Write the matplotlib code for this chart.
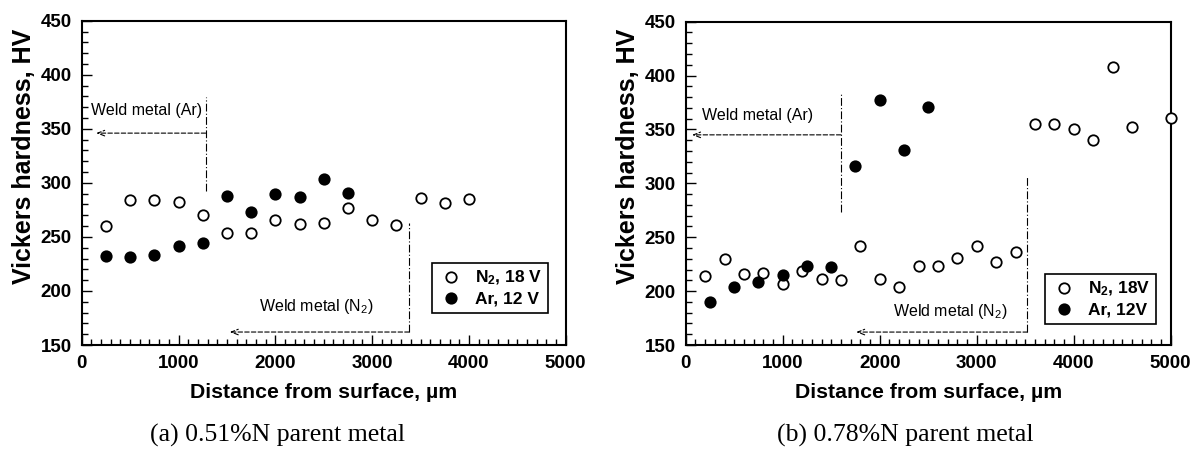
#!/usr/bin/env python3
"""Vickers hardness profiles vs distance from surface, two parent metals."""
from __future__ import annotations

import matplotlib
matplotlib.use("Agg")
import matplotlib.pyplot as plt
from matplotlib.ticker import MultipleLocator

# (a) 0.51%N parent metal
A_N2_X = [250, 500, 750, 1000, 1250, 1500, 1750, 2000, 2250, 2500, 2750,
          3000, 3250, 3500, 3750, 4000]
A_N2_HV = [260, 284, 284, 282, 270, 254, 254, 266, 262, 263, 277,
           266, 261, 286, 281, 285]
A_AR_X = [250, 500, 750, 1000, 1250, 1500, 1750, 2000, 2250, 2500, 2750]
A_AR_HV = [232, 231, 233, 242, 244, 288, 273, 290, 287, 304, 291]

# (b) 0.78%N parent metal
B_N2_X = [200, 400, 600, 800, 1000, 1200, 1400, 1600, 1800, 2000, 2200,
          2400, 2600, 2800, 3000, 3200, 3400, 3600, 3800, 4000, 4200,
          4400, 4600, 5000]
B_N2_HV = [214, 230, 216, 217, 207, 219, 211, 210, 242, 211, 204,
           223, 223, 231, 242, 227, 236, 355, 355, 350, 340,
           408, 352, 361]
B_AR_X = [250, 500, 750, 1000, 1250, 1500, 1750, 2000, 2250, 2500]
B_AR_HV = [190, 204, 208, 215, 223, 222, 316, 377, 331, 371]

# weld-metal boundaries: (x of boundary, vline y0, vline y1, arrow y, arrow end x)
A_WELD_AR = (1281, 292, 379, 346, 150)
A_WELD_N2 = (3383, 162, 263, 162, 1530)
B_WELD_AR = (1600, 273, 385, 345, 66)
B_WELD_N2 = (3523, 162, 306, 162, 1758)

PANELS = [
    dict(n2=(A_N2_X, A_N2_HV), ar=(A_AR_X, A_AR_HV),
         weld_ar=A_WELD_AR, weld_n2=A_WELD_N2,
         ar_text=(96, 367), n2_text=(2425, 186),
         labels=("N$_\\mathbf{2}$, 18 V", "Ar, 12 V"),
         leg_anchor=(0.963, 0.099),
         rect=[81.7 / 1193, 1 - 345 / 451, 484 / 1193, 324.3 / 451],
         caption="(a) 0.51%N parent metal", cap_x=278 / 1193),
    dict(n2=(B_N2_X, B_N2_HV), ar=(B_AR_X, B_AR_HV),
         weld_ar=B_WELD_AR, weld_n2=B_WELD_N2,
         ar_text=(172, 363), n2_text=(2723, 181),
         labels=("N$_\\mathbf{2}$, 18V", "Ar, 12V"),
         leg_anchor=(0.970, 0.065),
         rect=[685.7 / 1193, 1 - 345 / 451, 485 / 1193, 323.3 / 451],
         caption="(b) 0.78%N parent metal", cap_x=905 / 1193),
]


def weld_marker(ax, bound, text, text_xy, ha):
    x, y0, y1, ya, xend = bound
    ax.plot([x, x], [y0, y1], color="black", lw=0.8,
            linestyle=(0, (7, 2, 1, 2)), zorder=1)
    ax.annotate("", xy=(xend, ya), xytext=(x, ya),
                arrowprops=dict(arrowstyle="->,head_length=0.5,head_width=0.2",
                                linestyle=(0, (4, 2)), lw=0.8, color="black",
                                shrinkA=0, shrinkB=0))
    ax.text(text_xy[0], text_xy[1], text, ha=ha, va="center", fontsize=11.5)


def main() -> int:
    plt.rcParams["font.family"] = ["Liberation Sans", "DejaVu Sans"]
    plt.rcParams["mathtext.fontset"] = "custom"
    plt.rcParams["mathtext.rm"] = "Liberation Sans"
    plt.rcParams["mathtext.bf"] = "Liberation Sans:bold"
    plt.rcParams["mathtext.it"] = "Liberation Sans:italic"

    fig = plt.figure(figsize=(11.93, 4.51), dpi=100)

    for p in PANELS:
        ax = fig.add_axes(p["rect"])
        ax.plot(*p["n2"], "o", ms=7.5, mfc="white", mec="black", mew=1.3,
                label=p["labels"][0], zorder=3, clip_on=False)
        ax.plot(*p["ar"], "o", ms=7.5, mfc="black", mec="black", mew=1.3,
                label=p["labels"][1], zorder=3, clip_on=False)

        weld_marker(ax, p["weld_ar"], "Weld metal (Ar)", p["ar_text"], "left")
        weld_marker(ax, p["weld_n2"], "Weld metal (N$_2$)", p["n2_text"], "center")

        ax.set_xlim(0, 5000)
        ax.set_ylim(150, 450)
        ax.xaxis.set_major_locator(MultipleLocator(1000))
        ax.xaxis.set_minor_locator(MultipleLocator(100))
        ax.yaxis.set_major_locator(MultipleLocator(50))
        ax.yaxis.set_minor_locator(MultipleLocator(10))
        ax.tick_params(which="both", direction="in", top=False, right=False,
                       width=1.0)
        ax.tick_params(which="major", length=7, pad=7, labelsize=13.5)
        ax.tick_params(which="minor", length=4)
        for lab in ax.get_xticklabels() + ax.get_yticklabels():
            lab.set_fontweight("bold")
        for s in ax.spines.values():
            s.set_linewidth(1.5)

        ax.set_xlabel("Distance from surface, \u00b5m", fontsize=15.3,
                      fontweight="bold", labelpad=8)
        ax.set_ylabel("Vickers hardness, HV", fontsize=18, fontweight="bold")
        ax.yaxis.set_label_coords(-0.095, 0.583)

        leg = ax.legend(loc="lower right", bbox_to_anchor=p["leg_anchor"],
                        borderaxespad=0, fancybox=False, framealpha=1,
                        edgecolor="black", fontsize=12.5, handletextpad=0.6,
                        borderpad=0.35, labelspacing=0.25, handlelength=1.5)
        leg.get_frame().set_linewidth(1.2)
        for t in leg.get_texts():
            t.set_fontweight("bold")

        fig.text(p["cap_x"], 1 - 435 / 451, p["caption"], ha="center",
                 va="center", fontsize=18.5,
                 family=["Liberation Serif", "DejaVu Serif"])

    fig.savefig("out.png", dpi=100)
    plt.close(fig)
    return 0


if __name__ == "__main__":
    raise SystemExit(main())
